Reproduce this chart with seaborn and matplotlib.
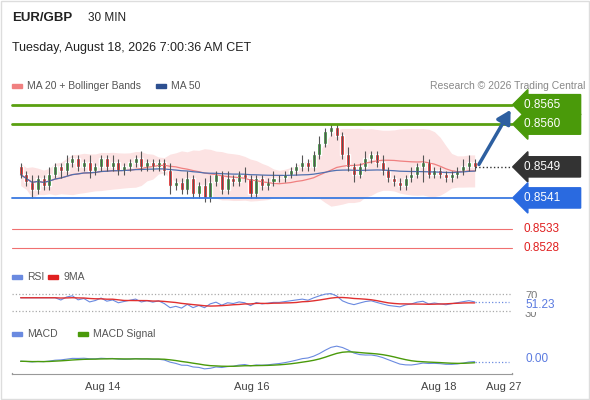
import matplotlib
matplotlib.use("Agg")
import matplotlib.pyplot as plt
import numpy as np
import pandas as pd
import seaborn as sns

sns.set_style("white")
plt.rcParams['font.family'] = ['Liberation Sans', 'DejaVu Sans']

# candle closes (30 min bars)
closes = [0.8547, 0.8545, 0.8543, 0.8546, 0.8544, 0.8547, 0.8549, 0.8548, 0.8550, 0.8551, 0.8549,
          0.8550, 0.8548, 0.8549, 0.8551, 0.8549, 0.8550, 0.8548, 0.8549, 0.8550, 0.8551,
          0.8549, 0.8550, 0.8549, 0.8550, 0.8548, 0.8544, 0.8545, 0.8543, 0.8546, 0.8542,
          0.8544, 0.8541, 0.8545, 0.8547, 0.8543, 0.8546, 0.8545, 0.8547, 0.8546, 0.8542,
          0.8546, 0.8544, 0.8545, 0.8546, 0.8546, 0.8547, 0.8548, 0.8549, 0.8550, 0.8549,
          0.8552, 0.8555, 0.8558, 0.8559, 0.8557, 0.8552, 0.8549, 0.8547,
          0.8549, 0.8551, 0.8552, 0.8550, 0.8548, 0.8546, 0.8545, 0.8544, 0.8546, 0.8547,
          0.8549, 0.8550, 0.8547, 0.8548, 0.8547, 0.8546, 0.8547, 0.8548, 0.8549, 0.8550, 0.8549]
# wick extensions in pips above / below the body
wick_up = [1, 1, 2, 1, 1, 2, 1, 1, 2, 1, 1, 1, 2, 1, 1, 1, 2, 1, 1, 1, 1,
           2, 1, 1, 1, 1, 2, 1, 1, 2, 1, 1, 2, 2, 1, 1, 2, 1, 1, 2, 1,
           1, 1, 1, 2, 1, 1, 1, 1, 2, 1, 1, 2, 1, 1, 1, 1, 2, 1,
           1, 2, 1, 1, 2, 1, 1, 1, 1, 2, 1, 2, 1, 1, 1, 1, 1, 1, 2, 2, 1]
wick_dn = [1, 1, 2, 1, 1, 1, 1, 2, 1, 1, 1, 1, 2, 1, 1, 1, 1, 1, 1, 1, 1,
           1, 1, 1, 1, 1, 2, 1, 1, 1, 1, 1, 1, 1, 1, 1, 1, 1, 1, 1, 1,
           1, 1, 1, 1, 1, 1, 1, 1, 1, 1, 1, 1, 1, 1, 1, 1, 1, 2,
           1, 1, 1, 1, 1, 1, 1, 1, 1, 1, 1, 4, 1, 1, 1, 1, 1, 1, 1, 1, 1]
first_open = 0.8549

res_levels = [0.8565, 0.8560]
pivot = 0.8549
sup_levels = [0.8541, 0.8533, 0.8528]
date_ticks = [14.2, 40.3, 72.7, 84.0]
date_labels = ["Aug 14", "Aug 16", "Aug 18", "Aug 27"]
rsi_label = "51.23"
macd_label = "0.00"

s = pd.Series(closes)
opens = pd.Series([first_open] + closes[:-1])
highs = np.maximum(s, opens) + np.array(wick_up) * 1e-4
lows = np.minimum(s, opens) - np.array(wick_dn) * 1e-4
x = np.arange(len(s))

ma20 = s.rolling(20, min_periods=1).mean()
sd20 = s.rolling(20, min_periods=2).std().bfill()
ma50 = s.rolling(50, min_periods=1).mean()
delta = s.diff().fillna(0)
up = delta.clip(lower=0).ewm(alpha=1/14).mean()
dn = (-delta.clip(upper=0)).ewm(alpha=1/14).mean()
rsi = 100 - 100 / (1 + up / dn.replace(0, 1e-9))
rsi.iloc[:6] = np.nan
rsi = rsi.bfill()
rsi9 = rsi.rolling(9, min_periods=1).mean()
macd = s.ewm(span=12).mean() - s.ewm(span=26).mean()
sig = macd.ewm(span=9).mean()

W, H = 590, 400
fig = plt.figure(figsize=(5.9, 4.0), dpi=100)

def px_axes(x0, y0, x1, y1):
    return fig.add_axes([x0 / W, 1 - y1 / H, (x1 - x0) / W, (y1 - y0) / H])

xlim = (-1.5, 85.5)
ax = px_axes(12, 95, 512, 262)
ylo, yhi = 0.85245, 0.85675
ax.set_xlim(*xlim); ax.set_ylim(ylo, yhi)
ax.axis('off')
ax.fill_between(x, ma20 - 2 * sd20, ma20 + 2 * sd20, color='#fcdcdc', alpha=0.8, lw=0)
ax.plot(x, ma20, color='#f08080', lw=0.9)
ax.plot(x, ma50, color='#5070b0', lw=0.9)
colors = np.where(s >= opens, '#2e8b2e', '#e02020')
ax.vlines(x, lows, highs, color='#555555', lw=0.8)
ax.bar(x, np.abs(s - opens) + 2e-5, bottom=np.minimum(s, opens), width=0.7, color=colors)
for lv in res_levels:
    ax.axhline(lv, xmin=0, xmax=1.0, color='#5aa010', lw=2, clip_on=False)
ax.axhline(sup_levels[0], xmax=1.0, color='#3a7ae0', lw=1.3, clip_on=False)
for lv in sup_levels[1:]:
    ax.axhline(lv, xmax=1.0, color='#f07070', lw=0.8, clip_on=False)
ax.plot([x[-1], 85.5], [pivot, pivot], ls=':', color='#333333', lw=1, clip_on=False)
ax.annotate("", xy=(85.5, 0.85643), xytext=(x[-1] + 0.5, pivot),
            arrowprops=dict(arrowstyle='-|>,head_width=0.45,head_length=0.8', color='#2d5fa0', lw=2.5),
            annotation_clip=False)

def tag(val, fc, tc='white'):
    yy = 95 + (yhi - val) / (yhi - ylo) * 167
    if fc is None:
        fig.text(523 / W, 1 - yy / H, f"{val:.4f}", color=tc, fontsize=8.5, va='center')
    else:
        fig.text(524 / W, 1 - yy / H, f"{val:.4f}     ", color=tc, fontsize=8.5, va='center',
                 bbox=dict(boxstyle='larrow,pad=0.35', fc=fc, ec=fc))
for lv in res_levels:
    tag(lv, '#4a9a0a')
tag(pivot, '#333333')
tag(sup_levels[0], '#2a6ae0')
tag(sup_levels[1], None, '#e02020')
tag(sup_levels[2], None, '#e02020')

# RSI panel
ar = px_axes(12, 285, 512, 318)
ar.set_xlim(*xlim); ar.set_ylim(15, 90)
ar.axis('off')
for lv in (70, 30):
    ar.axhline(lv, xmax=1.0, color='#aaaaaa', ls=':', lw=0.9)
ar.plot(x, rsi, color='#6a8ae0', lw=0.8)
ar.plot(x, rsi9, color='#e03030', lw=1.0)
ar.plot([x[-1], 85], [rsi.iloc[-1]] * 2, color='#6a8ae0', ls=':', lw=0.9)
fig.text(525 / W, 1 - 296 / H, "70", color='#777777', fontsize=8, va='center')
fig.text(525 / W, 1 - 314 / H, "30", color='#777777', fontsize=8, va='center')
fig.text(525 / W, 1 - 305 / H, rsi_label, color='#5a7ae0', fontsize=8.5, va='center',
         bbox=dict(fc='white', ec='none', pad=0.5))

# MACD panel
am = px_axes(12, 345, 512, 370)
am.set_xlim(*xlim)
am.axis('off')
am.plot(x, macd, color='#6a8ae0', lw=0.8)
am.plot(x, sig, color='#4a9a0a', lw=1.0)
am.plot([x[-1], 85], [macd.iloc[-1]] * 2, color='#6a8ae0', ls=':', lw=0.9)
fig.text(525 / W, 1 - 359 / H, macd_label, color='#5a7ae0', fontsize=8.5, va='center')

# x axis
axx = px_axes(12, 373, 512, 374)
axx.set_xlim(*xlim)
sns.despine(ax=axx, left=True, right=True, top=True, bottom=False)
axx.set_yticks([])
axx.set_xticks(date_ticks)
axx.set_xticklabels(date_labels, fontsize=8, color='#444444')
axx.tick_params(axis='x', length=0, pad=6)
axx.spines['bottom'].set_color('#999999')
axx.plot([xlim[0], xlim[0]], [0, 6], color='#999999', lw=1, clip_on=False)
axx.plot([xlim[1], xlim[1]], [0, 6], color='#999999', lw=1, clip_on=False)

# header and legends
fig.text(12 / W, 1 - 18 / H, "EUR/GBP", fontsize=9.5, fontweight='bold', color='#222222', va='center')
fig.text(88 / W, 1 - 18 / H, "30 MIN", fontsize=8.5, color='#222222', va='center')
fig.text(12 / W, 1 - 48 / H, "Tuesday, August 18, 2026 7:00:36 AM CET", fontsize=9, color='#222222', va='center')

def leg(xp, yp, col, label):
    fig.patches.append(plt.Rectangle(((xp) / W, 1 - (yp + 2) / H), 10 / W, 4 / H,
                                     color=col, transform=fig.transFigure))
    fig.text((xp + 15) / W, 1 - yp / H, label, fontsize=7.5, color='#555555', va='center')
leg(12, 86, '#f08080', "MA 20 + Bollinger Bands")
leg(156, 86, '#2d4f90', "MA 50")
fig.text(585 / W, 1 - 86 / H, "Research © 2026 Trading Central", fontsize=7.5, color='#888888',
         va='center', ha='right')
leg(12, 277, '#6a8ae0', "RSI")
leg(48, 277, '#e02020', "9MA")
leg(12, 334, '#6a8ae0', "MACD")
leg(78, 334, '#4a9a0a', "MACD Signal")

fig.patches.append(plt.Rectangle((0.002, 0.002), 0.996, 0.996, fill=False, ec='#dddddd',
                                 lw=1, transform=fig.transFigure))
fig.savefig("out.png", dpi=100)
